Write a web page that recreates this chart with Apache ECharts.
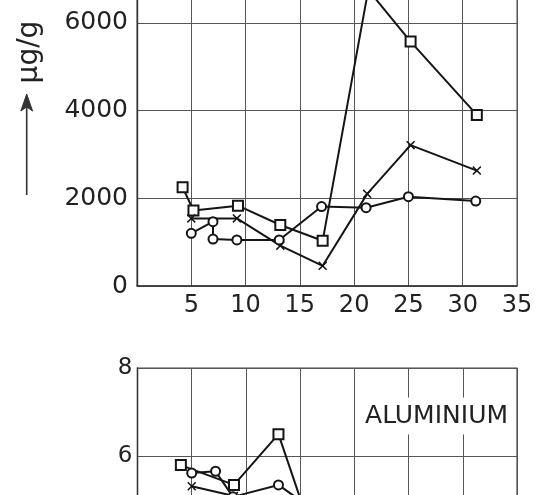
<!DOCTYPE html>
<html>
<head>
<meta charset="utf-8">
<script src="https://cdn.jsdelivr.net/npm/echarts@6/dist/echarts.min.js"></script>
<style>
html,body{margin:0;padding:0;background:#fff;overflow:hidden;width:542px;height:495px;}
#wrap{position:relative;width:542px;height:495px;overflow:hidden;}
#chart{position:absolute;left:0;top:-95px;width:542px;height:846px;}
</style>
</head>
<body>
<div id="wrap"><div id="chart"></div></div>
<script>
// ---- Top panel (μg/g) ----
const xTicks = [0, 5, 10, 15, 20, 25, 30, 35];
const topYTicks = [0, 2000, 4000, 6000, 8000];
const topSquareX = [4.2, 5.2, 9.3, 13.2, 17.1, 21.3, 25.2, 31.3];
const topSquareY = [2250, 1720, 1830, 1390, 1030, 6750, 5570, 3900];
const topCrossX = [5, 9.2, 13.2, 17.1, 21.2, 25.2, 31.3];
const topCrossY = [1540, 1540, 920, 460, 2100, 3210, 2630];
const topCircleX = [5, 7, 7, 9.2, 13.1, 17, 21.1, 25, 31.2];
const topCircleY = [1200, 1465, 1070, 1050, 1050, 1810, 1785, 2035, 1935];
// ---- Bottom panel (ALUMINIUM) ----
const botYTicks = [0, 2, 4, 6, 8];
const botSquareX = [4.0, 8.9, 13.0, 17.0];
const botSquareY = [5.8, 5.35, 6.5, 3.6];
const botCircleX = [5, 7.2, 8.8, 13.0, 17.0];
const botCircleY = [5.62, 5.66, 5.08, 5.35, 4.65];
const botCrossX = [5, 8.9, 13.0];
const botCrossY = [5.32, 5.1, 4.6];
const panelLabel = 'ALUMINIUM';
const unitLabel = 'μg/g';

const pairs = (xs, ys) => xs.map((x, i) => [x, ys[i]]);
const FONT = 'DejaVu Sans';
const INK = '#151515';
const GRID = '#555';
const OFF = 95; // chart canvas is shifted up by this many px
const crossPath = 'path://M0,1.2 L1.2,0 L5,3.8 L8.8,0 L10,1.2 L6.2,5 L10,8.8 L8.8,10 L5,6.2 L1.2,10 L0,8.8 L3.8,5 Z';

function lineSeries(data, xi, symbol, size) {
  const empty = symbol.indexOf('empty') === 0;
  return {
    type: 'line', xAxisIndex: xi, yAxisIndex: xi, data: data,
    symbol: symbol, symbolSize: size, showAllSymbol: true,
    lineStyle: { color: INK, width: 2 },
    itemStyle: empty ? { color: INK, borderColor: INK, borderWidth: 1.3 } : { color: INK },
    animation: false, z: 3
  };
}

function xAxis(gi, showLabels) {
  return {
    type: 'value', gridIndex: gi, min: xTicks[0], max: xTicks[xTicks.length - 1], interval: 5,
    axisLine: { show: true, lineStyle: { color: '#333', width: 1.6 } },
    axisTick: { show: false },
    splitLine: { show: true, lineStyle: { color: GRID, width: 1 } },
    axisLabel: {
      show: showLabels, margin: 8, fontSize: 24, fontFamily: FONT, color: '#222',
      formatter: v => (v === 0 ? '' : String(v))
    }
  };
}

function yAxis(gi, ticks, fs, margin) {
  return {
    type: 'value', gridIndex: gi, min: ticks[0], max: ticks[ticks.length - 1],
    interval: ticks[1] - ticks[0],
    axisLine: { show: true, lineStyle: { color: '#333', width: 1.4 } },
    axisTick: { show: false },
    splitLine: { show: true, lineStyle: { color: GRID, width: 1 } },
    axisLabel: { margin: margin, fontSize: fs, fontFamily: FONT, color: '#222', formatter: v => String(v) }
  };
}

const chart = echarts.init(document.getElementById('chart'), null, { renderer: 'canvas' });
chart.setOption({
  backgroundColor: '#fff',
  animation: false,
  grid: [
    { left: 137, right: 25, top: 30, bottom: 465, show: true, borderColor: '#444', borderWidth: 1,
      backgroundColor: 'transparent', containLabel: false, outerBoundsMode: 'none' },
    { left: 137.5, right: 25, top: 463, bottom: 30, show: true, borderColor: '#444', borderWidth: 1.2,
      backgroundColor: 'transparent', containLabel: false, outerBoundsMode: 'none' }
  ],
  xAxis: [xAxis(0, true), xAxis(1, false)],
  yAxis: [yAxis(0, topYTicks, 25, 9), yAxis(1, botYTicks, 23, 5)],
  series: [
    lineSeries(pairs(topSquareX, topSquareY), 0, 'emptyRect', 10),
    lineSeries(pairs(topCrossX, topCrossY), 0, crossPath, 9),
    lineSeries(pairs(topCircleX, topCircleY), 0, 'emptyCircle', 9),
    lineSeries(pairs(botSquareX, botSquareY), 1, 'emptyRect', 10),
    lineSeries(pairs(botCrossX, botCrossY), 1, crossPath, 9),
    lineSeries(pairs(botCircleX, botCircleY), 1, 'emptyCircle', 9)
  ],
  graphic: [
    {
      type: 'text', x: 30, y: 52 + OFF, rotation: Math.PI / 2, z: 10,
      style: { text: unitLabel, fontSize: 28, fontFamily: FONT, fill: '#222', align: 'center', verticalAlign: 'middle' }
    },
    {
      type: 'line', z: 10,
      shape: { x1: 26.7, y1: 195 + OFF, x2: 26.7, y2: 106 + OFF },
      style: { stroke: '#333', lineWidth: 1.6 }
    },
    {
      type: 'polygon', z: 10,
      shape: { points: [[26.7, 94 + OFF], [20.8, 111 + OFF], [26.7, 107 + OFF], [32.6, 111 + OFF]] },
      style: { fill: '#333', stroke: '#333', lineWidth: 1 }
    },
    {
      type: 'text', x: 510, y: 416 + OFF, z: 10,
      style: {
        text: panelLabel, fontSize: 25, fontFamily: FONT, fill: '#222',
        align: 'right', verticalAlign: 'middle',
        backgroundColor: '#fff', padding: [6, 2, 6, 3]
      }
    }
  ]
});
</script>
</body>
</html>
